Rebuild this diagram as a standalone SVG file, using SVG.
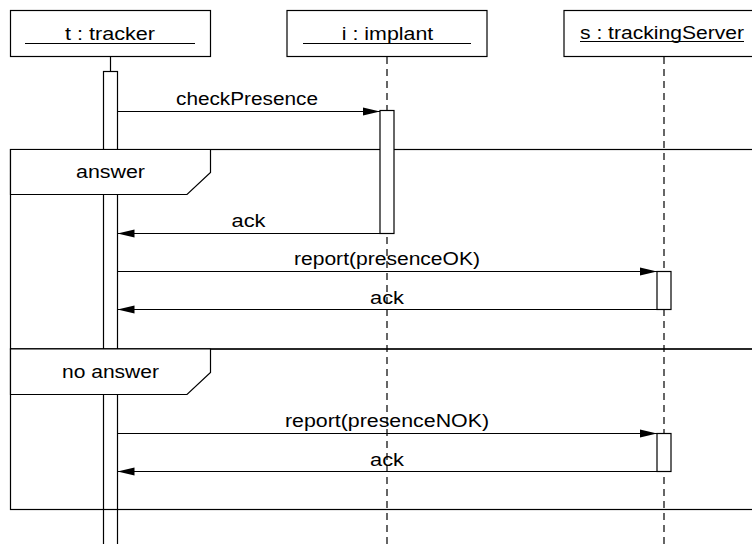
<svg xmlns="http://www.w3.org/2000/svg" width="752" height="544" viewBox="0 0 752 544">
<style>
.box{fill:#fff;stroke:#000;stroke-width:1.2}
.frame{fill:none;stroke:#000;stroke-width:1.2}
.tag{fill:#fff;stroke:#000;stroke-width:1.2}
.act{fill:#fff;stroke:#000;stroke-width:1.2}
.life{stroke:#000;stroke-width:1.2;stroke-dasharray:7 5;fill:none}
.msg{stroke:#000;stroke-width:1;fill:none;marker-end:url(#ah)}
.ul{stroke:#000;stroke-width:1}
text{font-family:"Liberation Sans",Arial,sans-serif;font-size:17.5px;fill:#000;text-anchor:middle}
</style>
<defs>
<marker id="ah" markerWidth="18" markerHeight="9" refX="17" refY="4.5" orient="auto" markerUnits="userSpaceOnUse">
<path d="M0,0.5 L17,4.5 L0,8.5 z" fill="#000"/>
</marker>
</defs>
<rect width="752" height="544" fill="#fff"/>

<g id="t-tracker">
<rect class="box" x="10.5" y="10.5" width="200" height="46"/>
<text x="110" y="40" textLength="90" lengthAdjust="spacingAndGlyphs">t : tracker</text>
<line class="ul" x1="25" y1="43.5" x2="195" y2="43.5"/>
<line x1="110.5" y1="56.5" x2="110.5" y2="71.5" stroke="#000" stroke-width="1.2"/>
<rect class="act" x="103.5" y="71.5" width="14" height="490"/>
</g>

<g id="frame-answer">
<rect class="frame" x="10.5" y="149.5" width="760" height="199.5"/>
<path class="tag" d="M10.5,149.5 H210.5 V172.5 L187,194.5 H10.5 Z"/>
<text x="110.5" y="178" textLength="69" lengthAdjust="spacingAndGlyphs">answer</text>
</g>
<g id="frame-no-answer">
<rect class="frame" x="10.5" y="349" width="760" height="160.5"/>
<path class="tag" d="M10.5,349 H210.5 V372.5 L187,394.5 H10.5 Z"/>
<text x="110.5" y="378" textLength="97" lengthAdjust="spacingAndGlyphs">no answer</text>
</g>

<g id="connectors">
<line class="msg" x1="117.5" y1="111.5" x2="380" y2="111.5"/>
<text x="247" y="104.5" textLength="142" lengthAdjust="spacingAndGlyphs">checkPresence</text>
<line class="msg" x1="380" y1="233.5" x2="117.5" y2="233.5"/>
<text x="248.5" y="227" textLength="34" lengthAdjust="spacingAndGlyphs">ack</text>
<line class="msg" x1="117.5" y1="271.5" x2="657" y2="271.5"/>
<text x="387" y="265" textLength="186" lengthAdjust="spacingAndGlyphs">report(presenceOK)</text>
<line class="msg" x1="657" y1="309.5" x2="117.5" y2="309.5"/>
<text x="387" y="303.5" textLength="34" lengthAdjust="spacingAndGlyphs">ack</text>
<line class="msg" x1="117.5" y1="433.5" x2="657" y2="433.5"/>
<text x="387" y="427" textLength="204" lengthAdjust="spacingAndGlyphs">report(presenceNOK)</text>
<line class="msg" x1="657" y1="471.5" x2="117.5" y2="471.5"/>
<text x="387" y="465.5" textLength="34" lengthAdjust="spacingAndGlyphs">ack</text>
</g>

<g id="i-implant">
<rect class="box" x="287" y="10.5" width="200" height="46"/>
<text x="387.5" y="40" textLength="91.5" lengthAdjust="spacingAndGlyphs">i : implant</text>
<line class="ul" x1="303" y1="43.5" x2="471" y2="43.5"/>
<line class="life" x1="387" y1="57" x2="387" y2="544"/>
<rect class="act" x="380" y="110.5" width="14" height="123"/>
</g>

<g id="s-trackingServer">
<rect class="box" x="564" y="10.5" width="200" height="46"/>
<text x="662" y="39" textLength="164" lengthAdjust="spacingAndGlyphs">s : trackingServer</text>
<line class="ul" x1="580" y1="41.5" x2="744" y2="41.5"/>
<line class="life" x1="664" y1="57" x2="664" y2="544"/>
<rect class="act" x="657" y="271.5" width="14" height="38"/>
<rect class="act" x="657" y="433.5" width="14" height="38"/>
</g>
</svg>
